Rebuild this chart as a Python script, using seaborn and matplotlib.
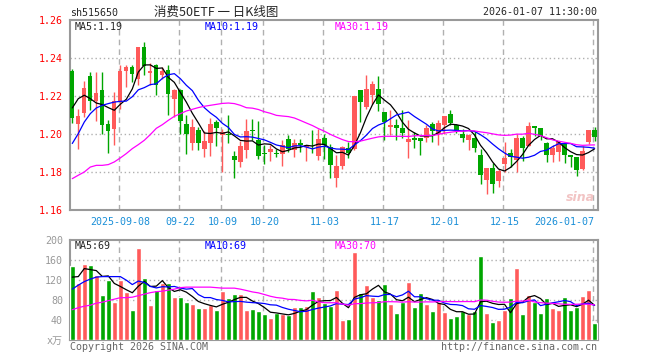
import numpy as np
import pandas as pd
import matplotlib
matplotlib.use("Agg")
import matplotlib.pyplot as plt
import seaborn as sns

# daily OHLC, 2025-08-27 .. 2026-01-07
opens = [1.233, 1.2055, 1.2113, 1.2307, 1.2176, 1.2233, 1.2054, 1.2025, 1.2168, 1.233,
         1.2351, 1.2288, 1.2458, 1.2321, 1.2361, 1.2309, 1.2339, 1.2186, 1.223, 1.2054,
         1.1955, 1.2023, 1.1923, 1.1955, 1.2063, 1.1993, 1.2, 1.1884, 1.1851, 1.1914,
         1.2021, 1.1967, 1.19, 1.1905, 1.19, 1.1897, 1.1975, 1.1914, 1.1951, 1.1932,
         1.1923, 1.1883, 1.1981, 1.1932, 1.177, 1.1832, 1.1926, 1.1923, 1.223, 1.2142,
         1.2207, 1.2235, 1.2116, 1.2037, 1.2046, 1.2033, 1.1958, 1.1981, 1.1979, 1.1979,
         1.2054, 1.2002, 1.2049, 1.2107, 1.2046, 1.2002, 1.1967, 1.1979, 1.1891, 1.1756,
         1.1823, 1.1751, 1.1844, 1.1899, 1.1864, 1.1977, 1.1935, 1.2041, 1.2032, 1.1952,
         1.1888, 1.1906, 1.195, 1.1888, 1.1881, 1.1814, 1.1959, 1.2023]
highs = [1.234, 1.2133, 1.2277, 1.2326, 1.2326, 1.2326, 1.2072, 1.2221, 1.2361, 1.2361,
         1.2361, 1.246, 1.2484, 1.2375, 1.237, 1.2353, 1.2361, 1.2239, 1.2239, 1.2098,
         1.2081, 1.2037, 1.2016, 1.2086, 1.2072, 1.2025, 1.2102, 1.1909, 1.1961, 1.2081,
         1.2077, 1.2067, 1.1944, 1.1944, 1.1923, 1.1967, 1.1993, 1.1975, 1.1972, 1.1944,
         1.2023, 1.2028, 1.2002, 1.1949, 1.1888, 1.1937, 1.1958, 1.22, 1.223, 1.2312,
         1.2277, 1.2305, 1.2116, 1.2125, 1.2077, 1.2125, 1.2072, 1.2011, 1.1979, 1.2046,
         1.2063, 1.2075, 1.2095, 1.2125, 1.2054, 1.2028, 1.1998, 1.2014, 1.1923, 1.1823,
         1.1849, 1.1818, 1.1958, 1.192, 1.2, 1.1991, 1.2062, 1.2044, 1.2032, 1.1956,
         1.1942, 1.1961, 1.1956, 1.1888, 1.1881, 1.1938, 1.2023, 1.2035]
lows = [1.206, 1.192, 1.209, 1.2125, 1.2068, 1.1998, 1.19, 1.194, 1.2133, 1.2247,
        1.2274, 1.2256, 1.2309, 1.2256, 1.2204, 1.229, 1.2102, 1.209, 1.2, 1.1897,
        1.1914, 1.1918, 1.1879, 1.1884, 1.1937, 1.18, 1.195, 1.1768, 1.1826, 1.1874,
        1.1967, 1.1867, 1.1844, 1.1858, 1.1879, 1.183, 1.1905, 1.1879, 1.1905, 1.1856,
        1.1902, 1.1861, 1.1867, 1.1769, 1.1721, 1.1818, 1.1876, 1.1914, 1.2063, 1.213,
        1.216, 1.2119, 1.1967, 1.1993, 1.1967, 1.1979, 1.1876, 1.1926, 1.1888, 1.1958,
        1.1958, 1.194, 1.2002, 1.2049, 1.2005, 1.1958, 1.1918, 1.1905, 1.1739, 1.1686,
        1.1691, 1.1721, 1.18, 1.1828, 1.18, 1.1858, 1.1935, 1.1991, 1.197, 1.1853,
        1.1853, 1.1858, 1.1849, 1.1828, 1.1779, 1.181, 1.1947, 1.1965]
closes = [1.2086, 1.2095, 1.2244, 1.2172, 1.2218, 1.2046, 1.2014, 1.2174, 1.233, 1.2351,
          1.2318, 1.2458, 1.236, 1.2332, 1.2258, 1.233, 1.2209, 1.223, 1.2067, 1.2002,
          1.2037, 1.1955, 1.1965, 1.2054, 1.2032, 1.2011, 1.1993, 1.1861, 1.1935, 1.2014,
          1.2016, 1.1883, 1.1893, 1.1923, 1.1893, 1.194, 1.1923, 1.1954, 1.1942, 1.1944,
          1.192, 1.1975, 1.1944, 1.1835, 1.1832, 1.1932, 1.1902, 1.22, 1.2168, 1.2235,
          1.2265, 1.216, 1.2063, 1.2046, 1.2033, 1.2007, 1.1975, 1.1967, 1.1965, 1.2033,
          1.2014, 1.2058, 1.2095, 1.2058, 1.2019, 1.1979, 1.1993, 1.1926, 1.1786, 1.1823,
          1.1739, 1.1804, 1.1874, 1.1881, 1.1977, 1.1924, 1.2044, 1.203, 1.1988, 1.1888,
          1.1924, 1.1956, 1.1888, 1.188, 1.181, 1.1912, 1.2023, 1.1985]
# volume in 万
volumes = [148, 115, 152, 150, 130, 90, 120, 77, 120, 97,
           60, 185, 125, 70, 100, 115, 115, 87, 87, 76,
           72, 65, 65, 70, 61, 98, 85, 92, 92, 61,
           62, 59, 53, 45, 54, 52, 50, 67, 67, 69,
           98, 87, 74, 68, 100, 40, 43, 177, 94, 110,
           87, 80, 112, 72, 54, 76, 116, 67, 94, 72,
           58, 77, 56, 45, 49, 58, 52, 58, 168, 54,
           37, 40, 60, 84, 144, 52, 90, 76, 54, 84,
           64, 60, 86, 60, 66, 88, 100, 35]

# moving-average values at the left edge (their windows start before the chart)
ma5_head = [1.2137, 1.2186, 1.2204, 1.2186]
ma10_head = [1.195, 1.2002, 1.2063, 1.2107, 1.2137, 1.2151, 1.216, 1.2168, 1.2172]
ma30_head = [1.1765, 1.1783, 1.18, 1.1826, 1.1835, 1.1835, 1.1839, 1.1853, 1.1874, 1.1897,
             1.1923, 1.1944, 1.1967, 1.1997, 1.203, 1.2049, 1.2072, 1.2093, 1.2107, 1.2121,
             1.213, 1.2139, 1.2146, 1.2151, 1.2156, 1.2161, 1.2163, 1.216, 1.2151]
vma5_head = [126, 127, 143, 141]
vma10_head = [102, 110, 117, 122, 126, 127, 127, 127, 127]
vma30_head = [61, 65, 68, 70, 74, 76, 79, 82, 85, 85, 86, 89, 92, 95, 97, 98, 100, 102, 105,
              106, 106, 106, 106, 106, 105, 104, 104, 104, 102]

tick_idx = [8, 18, 25, 32, 42, 52, 62, 72, 87]
tick_labels = ["2025-09-08", "09-22", "10-09", "10-20", "11-03", "11-17", "12-01", "12-15", "2026-01-07"]

RED = "#ff5a5a"
GREEN = "#00a600"
GRID = "#b0b0b0"
MONO = ["DejaVu Sans Mono", "Noto Sans CJK SC"]


def moving_avg(values, n, head):
    s = pd.Series(values, dtype=float).rolling(n).mean().to_numpy()
    s[:len(head)] = head
    return s


df = pd.DataFrame({"open": opens, "high": highs, "low": lows, "close": closes, "vol": volumes})
df["idx"] = np.arange(len(df))
df["dir"] = np.where(df["close"] >= df["open"], "up", "down")
df["ma5"] = moving_avg(closes, 5, ma5_head)
df["ma10"] = moving_avg(closes, 10, ma10_head)
df["ma30"] = moving_avg(closes, 30, ma30_head)
df["vma5"] = moving_avg(volumes, 5, vma5_head)
df["vma10"] = moving_avg(volumes, 10, vma10_head)
df["vma30"] = moving_avg(volumes, 30, vma30_head)

sns.set_style("white")
plt.rcParams["font.family"] = MONO

fig = plt.figure(figsize=(6.6, 3.6), dpi=100)
ax1 = fig.add_axes([70 / 660, 150 / 360, 528 / 660, 190 / 360])
ax2 = fig.add_axes([70 / 660, 19.7 / 360, 528 / 660, 100.3 / 360])

pal = {"up": RED, "down": GREEN}
xlim = (-0.38, 87.57)

# candles
cols = df["dir"].map(pal)
ax1.vlines(df["idx"], df["low"], df["high"], colors=cols, lw=1, zorder=3)
body_lo = df[["open", "close"]].min(axis=1)
body_h = (df["close"] - df["open"]).abs().clip(lower=0.0003)
ax1.bar(df["idx"], body_h, bottom=body_lo, width=0.72, color=cols, lw=0, zorder=4)

for col, c in [("ma5", "black"), ("ma10", "#0000ff"), ("ma30", "#ff00ff")]:
    sns.lineplot(x=df["idx"], y=df[col], color=c, lw=0.9, ax=ax1, zorder=5)

ax1.set_xlim(*xlim)
ax1.set_ylim(1.16, 1.26)
ax1.set_yticks([1.16, 1.18, 1.20, 1.22, 1.24, 1.26])
ax1.set_yticklabels(["%.2f" % v for v in [1.16, 1.18, 1.20, 1.22, 1.24, 1.26]], color="red", fontsize=7.2)
ax1.set_xticks(tick_idx)
ax1.set_xticklabels(tick_labels, color="#1a8fd8", fontsize=7.2)
ax1.get_xticklabels()[-1].set_horizontalalignment("right")
ax1.set_xlabel("")
ax1.set_ylabel("")

# volume bars
sns.barplot(data=df, x="idx", y="vol", hue="dir", palette=pal, native_scale=True, dodge=False,
            width=0.8, errorbar=None, legend=False, saturation=1, ax=ax2, zorder=3)
for col, c in [("vma5", "black"), ("vma10", "#0000ff"), ("vma30", "#ff00ff")]:
    sns.lineplot(x=df["idx"], y=df[col], color=c, lw=0.9, ax=ax2, zorder=5)
ax2.set_xlim(*xlim)
ax2.set_ylim(0, 200)
ax2.set_yticks([0, 40, 80, 120, 160, 200])
ax2.set_yticklabels(["x万", "40", "80", "120", "160", "200"], color="#999999", fontsize=7.2)
ax2.set_xticks(tick_idx)
ax2.set_xticklabels([])
ax2.set_xlabel("")
ax2.set_ylabel("")

for ax, hlines in [(ax1, [1.18, 1.20, 1.22, 1.24]), (ax2, [40, 80, 120, 160])]:
    for x in tick_idx:
        ax.axvline(x - 0.3, color=GRID, lw=1, ls=(0, (4, 3)), zorder=1)
    for y in hlines:
        ax.axhline(y, color=GRID, lw=1, ls=(0, (1, 2)), zorder=1)
    for sp in ax.spines.values():
        sp.set_color("#999999")
        sp.set_linewidth(1.5)
    ax.tick_params(length=0, pad=5)

# header and legends
fig.text(70 / 660, 1 - 13 / 360, "sh515650", fontsize=7.2, va="center", ha="left")
fig.text(216 / 660, 1 - 12 / 360, "消费50ETF 一 日K线图", fontsize=9, va="center", ha="center",
         family=["Noto Sans CJK SC", "DejaVu Sans"])
fig.text(597 / 660, 1 - 12 / 360, "2026-01-07 11:30:00", fontsize=7.2, va="center", ha="right")

last = df.iloc[-1]
fig.text(75 / 660, 1 - 27 / 360, "MA5:%.2f" % last["ma5"], fontsize=7.2, va="center")
fig.text(205 / 660, 1 - 27 / 360, "MA10:%.2f" % last["ma10"], fontsize=7.2, va="center", color="#0000ff")
fig.text(335 / 660, 1 - 27 / 360, "MA30:%.2f" % last["ma30"], fontsize=7.2, va="center", color="#ff00ff")
fig.text(75 / 660, 1 - 246 / 360, "MA5:%d" % int(last["vma5"]), fontsize=7.2, va="center")
fig.text(205 / 660, 1 - 246 / 360, "MA10:%d" % int(last["vma10"]), fontsize=7.2, va="center", color="#0000ff")
fig.text(335 / 660, 1 - 246 / 360, "MA30:%d" % int(last["vma30"]), fontsize=7.2, va="center", color="#ff00ff")

fig.text(70 / 660, 1 - 347 / 360, "Copyright 2026 SINA.COM", fontsize=7.2, va="center", color="#666666")
fig.text(597 / 660, 1 - 347 / 360, "http://finance.sina.com.cn", fontsize=7.2, va="center", ha="right",
         color="#666666")
fig.text(580 / 660, 1 - 197 / 360, "sina", fontsize=9, va="center", ha="center", color="#f2c4c4",
         style="italic", weight="bold", family="DejaVu Sans")

fig.savefig("out.png", dpi=100)
